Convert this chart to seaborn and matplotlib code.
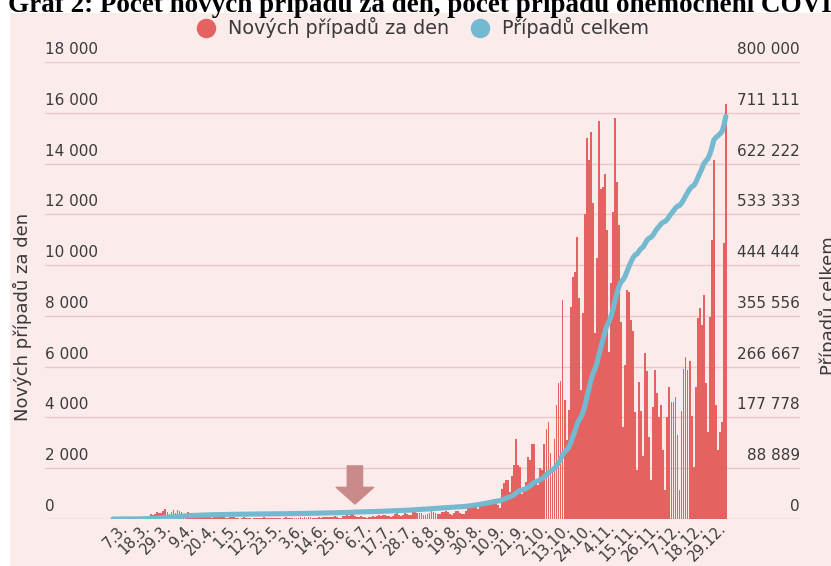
import numpy as np
import pandas as pd
import matplotlib
matplotlib.use("Agg")
import matplotlib.pyplot as plt
import seaborn as sns
from matplotlib.patches import Rectangle, FancyArrowPatch
from matplotlib.lines import Line2D
from matplotlib.transforms import offset_copy

# ---------------- data ----------------
start_date = "2020-03-01"
new_mar = [3, 0, 2, 0, 3, 5, 7, 6, 9, 23, 31, 22, 47, 73, 65, 85, 96, 89, 123, 184,
           154, 193, 283, 256, 253, 300, 377, 290, 203, 258, 335]
new_apr = [241, 370, 306, 282, 193, 184, 289, 248, 244, 165, 136, 83, 115, 152, 146,
           122, 118, 99, 55, 92, 99, 78, 101, 111, 80, 47, 55, 63, 85, 73]
new_may = [38, 38, 18, 52, 70, 44, 27, 28, 14, 21, 31, 57, 34, 53, 62, 43, 25, 53, 53,
           57, 47, 57, 37, 6, 38, 75, 42, 44, 58, 47, 26]
new_jun = [52, 93, 45, 72, 55, 87, 62, 52, 40, 33, 63, 34, 78, 61, 79, 71, 78, 74, 105,
           71, 30, 53, 125, 128, 168, 123, 260, 305, 127, 82]
new_jul = [86, 120, 90, 75, 51, 87, 67, 104, 95, 99, 165, 137, 149, 143, 113, 104, 84,
           130, 211, 247, 143, 106, 167, 232, 178, 160, 172, 262, 287, 237, 232]
new_aug = [217, 177, 155, 209, 230, 317, 270, 218, 200, 196, 271, 291, 302, 288, 186,
           145, 249, 296, 297, 235, 187, 192, 305, 420, 480, 450, 560, 520, 400, 620, 650]
new_sep = [650, 620, 650, 700, 720, 800, 700, 550, 420, 1170, 1405, 1530, 1530, 1077,
           1707, 2127, 3137, 2127, 2060, 1000, 1100, 1474, 2429, 2324, 2955, 2955, 1474,
           1343, 1997, 1931]
new_oct = [2955, 3533, 3836, 2588, 1840, 3137, 4491, 5346, 5438, 8626, 4687, 3112, 4293,
           8364, 9546, 9743, 11121, 8692, 5081, 8101, 12014, 14994, 14141, 15257, 12460,
           7313, 10268, 15677, 12998, 13077, 13602]
new_nov = [11396, 6566, 9284, 12106, 15783, 13290, 11580, 7772, 3636, 6060, 9010, 8929,
           7852, 7392, 4214, 1917, 5400, 4259, 2500, 6524, 5829, 3243, 1536, 4424, 5869,
           4950, 4030, 4490, 2718, 1143]
new_dec = [4030, 5212, 4595, 4621, 4792, 3308, 1143, 4266, 5895, 6393, 5869, 6236, 4069,
           2061, 5212, 7904, 8298, 7641, 8823, 5343, 3440, 7969, 10999, 14141, 4490, 2718,
           3440, 3834, 10862, 16347]

tick_labels = ["7.3.", "18.3.", "29.3.", "9.4.", "20.4.", "1.5.", "12.5.", "23.5.",
               "3.6.", "14.6.", "25.6.", "6.7.", "17.7.", "28.7.", "8.8.", "19.8.",
               "30.8.", "10.9.", "21.9.", "2.10.", "13.10.", "24.10.", "4.11.", "15.11.",
               "26.11.", "7.12.", "18.12.", "29.12."]
left_ticks = [0, 2000, 4000, 6000, 8000, 10000, 12000, 14000, 16000, 18000]
right_ticks = [0, 88889, 177778, 266667, 355556, 444444, 533333, 622222, 711111, 800000]

arrow_date = "2020-06-29"
arrow_from, arrow_to = 2090, 590

title = "Graf 2: Počet nových případů za den, počet případů onemocnění COVID-19 celkem"
legend_daily = "Nových případů za den"
legend_total = "Případů celkem"

# ---------------- derived table ----------------
new_cases = np.array(new_mar + new_apr + new_may + new_jun + new_jul + new_aug +
                     new_sep + new_oct + new_nov + new_dec)
t0 = pd.Timestamp(start_date)
df = pd.DataFrame({"day": np.arange(len(new_cases)), "new": new_cases})
df["total"] = df["new"].cumsum()


def label_day(s):
    d, m = s.strip(".").split(".")
    return (pd.Timestamp(year=2020, month=int(m), day=int(d)) - t0).days


tick_pos = [label_day(s) for s in tick_labels]
arrow_day = (pd.Timestamp(arrow_date) - t0).days

# ---------------- style ----------------
PINK = "#fcebeb"
RED = "#e4625f"
BLUE = "#73b9cf"
GRID = "#e8c8c8"
TEXT = "#3a3a3a"
ARROW = "#c98a8a"

sns.set_theme(style="white")
plt.rcParams["font.family"] = ["DejaVu Sans"]

W, H = 831, 566
fig = plt.figure(figsize=(W / 100, H / 100), dpi=100)
fig.patch.set_facecolor("white")
fig.add_artist(Rectangle((10 / W, 0), 1 - 10 / W, 1 - 13 / H, transform=fig.transFigure,
                         facecolor=PINK, edgecolor="none", zorder=0))

ax = fig.add_axes([45 / W, 47 / H, 755 / W, 457 / H])
ax.set_facecolor("none")

sns.barplot(data=df, x="day", y="new", native_scale=True, color=RED, saturation=1,
            width=0.92, errorbar=None, linewidth=0, ax=ax)

px = 2.016
x_left = -(113 - 45) / px
x_right = (800 - 113) / px
ax.set_xlim(x_left, x_right)
ax.set_ylim(0, 18000)
ax.set_yticks(left_ticks)
ax.tick_params(axis="y", length=0, labelleft=False)
ax.grid(axis="y", color=GRID, lw=1)
ax.grid(axis="x", visible=False)
ax.set_axisbelow(True)
for s in ax.spines.values():
    s.set_visible(False)
ax.set_xlabel("")
ax.set_ylabel("")
ax.set_xticks(tick_pos)
ax.set_xticklabels(tick_labels, rotation=45, ha="right", va="center",
                   rotation_mode="anchor", fontsize=10.5, color=TEXT)
ax.tick_params(axis="x", length=0, pad=5)

tr_left = offset_copy(ax.get_yaxis_transform(), fig=fig, x=0, y=5, units="dots")
for v in left_ticks:
    ax.text(0, v, f"{v:,}".replace(",", " "), transform=tr_left, ha="left",
            va="bottom", fontsize=11, color=TEXT)

arrow = FancyArrowPatch((arrow_day, arrow_from), (arrow_day, arrow_to),
                        arrowstyle="simple,head_length=12,head_width=27,tail_width=11",
                        mutation_scale=1, color=ARROW, shrinkA=0, shrinkB=0, zorder=3)
ax.add_patch(arrow)

ax2 = ax.twinx()
sns.lineplot(data=df, x="day", y="total", color=BLUE, lw=3.7, ax=ax2,
             solid_capstyle="round")
ax2.set_ylim(0, 800000)
ax2.set_xlim(x_left, x_right)
ax2.set_yticks(right_ticks)
ax2.tick_params(axis="y", length=0, labelright=False)
ax2.grid(False)
for s in ax2.spines.values():
    s.set_visible(False)
ax2.set_ylabel("")
ax2.set_xlabel("")

tr_right = offset_copy(ax2.get_yaxis_transform(), fig=fig, x=0, y=5, units="dots")
for v in right_ticks:
    ax2.text(1, v, f"{v:,}".replace(",", " "), transform=tr_right, ha="right",
             va="bottom", fontsize=11, color=TEXT)

fig.text(22 / W, 1 - 317 / H, legend_daily, rotation=90, ha="center", va="center",
         fontsize=13, color=TEXT)
fig.text(828 / W, 1 - 306 / H, legend_total, rotation=90, ha="center", va="center",
         fontsize=13, color=TEXT)

handles = [Line2D([], [], marker="o", ls="", color=RED, markersize=13, label=legend_daily),
           Line2D([], [], marker="o", ls="", color=BLUE, markersize=13, label=legend_total)]
fig.legend(handles=handles, loc="center", bbox_to_anchor=(0.503, 1 - 28 / H), ncol=2,
           frameon=False, fontsize=13.8, handletextpad=0.15, columnspacing=0.6,
           labelcolor=TEXT, borderaxespad=0)

fig.text(8 / W, 1 - 12 / H, title, ha="left", va="baseline", fontsize=19.5,
         fontweight="bold", family=["Liberation Serif", "DejaVu Serif"], color="black")

fig.savefig("out.png", dpi=100)
